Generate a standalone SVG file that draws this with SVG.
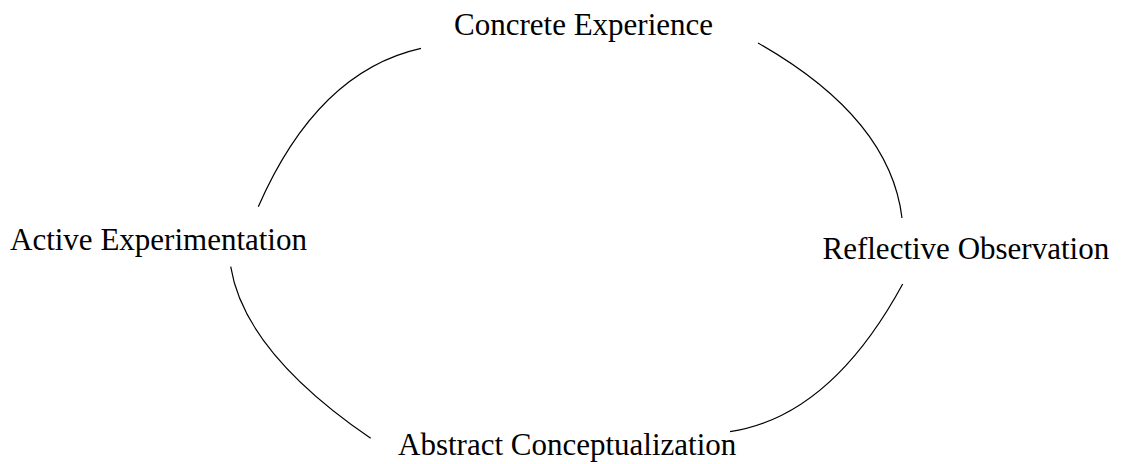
<svg xmlns="http://www.w3.org/2000/svg" width="1125" height="464" viewBox="0 0 1125 464">
<style>
text{font-family:"Liberation Serif","Times New Roman",serif;font-size:31px;fill:#000}
.c{fill:none;stroke:#000;stroke-width:1.2}
</style>
<rect width="1125" height="464" fill="#fff"/>
<g id="connectors">
<path class="c" d="M758,43 Q890,118 902,218"/>
<path class="c" d="M902.7,284 Q830.6,416.6 730,431.7"/>
<path class="c" d="M370.7,438.3 Q244.5,352 230.7,266.7"/>
<path class="c" d="M258.3,206.7 Q317.5,71.3 421,48.3"/>
</g>
<g id="concrete-experience"><text x="454" y="35">Concrete Experience</text></g>
<g id="reflective-observation"><text x="822.5" y="259">Reflective Observation</text></g>
<g id="abstract-conceptualization"><text x="398" y="455">Abstract Conceptualization</text></g>
<g id="active-experimentation"><text x="10" y="250">Active Experimentation</text></g>
</svg>
